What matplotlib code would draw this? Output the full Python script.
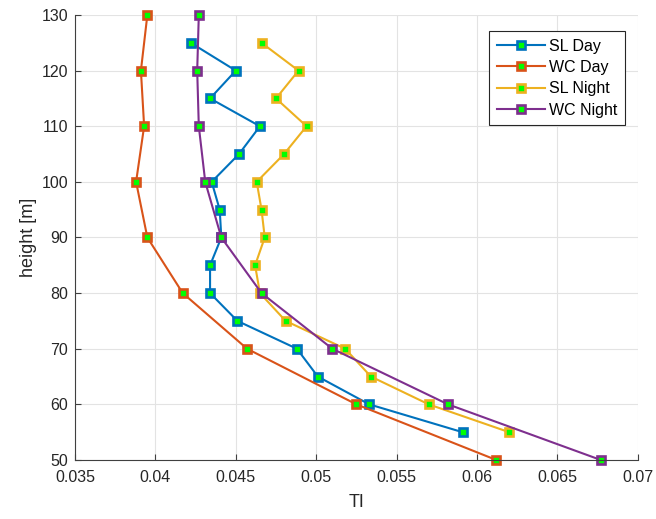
# TI profiles, day vs night

import numpy as np
import matplotlib.pyplot as plt

plt.rcParams['font.family'] = ['Liberation Sans', 'DejaVu Sans']

# SL heights (5 m steps), WC heights (10 m steps)
h_sl = [55, 60, 65, 70, 75, 80, 85, 90, 95, 100, 105, 110, 115, 120, 125]
h_wc = [50, 60, 70, 80, 90, 100, 110, 120, 130]

sl_day = [0.0591, 0.0533, 0.0501, 0.0488, 0.0451, 0.0434, 0.0434, 0.0441, 0.0440,
          0.0435, 0.0452, 0.0465, 0.0434, 0.0450, 0.0422]
wc_day = [0.0612, 0.0525, 0.0457, 0.0417, 0.0395, 0.0388, 0.0393, 0.0391, 0.0395]
sl_night = [0.0620, 0.0570, 0.0534, 0.0518, 0.0481, 0.0465, 0.0462, 0.0468, 0.0466,
            0.0463, 0.0480, 0.0494, 0.0475, 0.0489, 0.0466]
wc_night = [0.0677, 0.0582, 0.0510, 0.0466, 0.0441, 0.0431, 0.0427, 0.0426, 0.0427]

xticks = np.arange(0.035, 0.0701, 0.005)
xticklabels = ['0.035', '0.04', '0.045', '0.05', '0.055', '0.06', '0.065', '0.07']
yticks = np.arange(50, 131, 10)

fig = plt.figure(figsize=(6.56, 5.19), dpi=100)
ax = fig.add_axes([0.1143, 0.1137, 0.858, 0.8574])

series = [(sl_day, h_sl, 'SL Day', '#0072BD'),
          (wc_day, h_wc, 'WC Day', '#D95319'),
          (sl_night, h_sl, 'SL Night', '#EDB120'),
          (wc_night, h_wc, 'WC Night', '#7E2F8E')]
for x, h, lab, col in series:
    ax.plot(x, h, color=col, lw=1.5, marker='s', ms=5.2, mfc='#00FF00',
            mec=col, mew=1.9, label=lab, clip_on=False)

ax.set_xlim(0.035, 0.07)
ax.set_ylim(50, 130)
ax.set_xticks(xticks)
ax.set_xticklabels(xticklabels)
ax.set_yticks(yticks)
ax.grid(True, color='#E3E3E3', lw=0.8)
ax.set_axisbelow(True)
ax.spines['top'].set_visible(False)
ax.spines['right'].set_visible(False)
ax.spines['left'].set_color('#404040')
ax.spines['bottom'].set_color('#404040')
ax.tick_params(direction='in', length=4, colors='#404040', labelcolor='#262626',
               labelsize=11.5, pad=5)
ax.tick_params(axis='x', pad=7)
ax.set_xlabel('TI', fontsize=13, color='#262626', labelpad=7)
ax.set_ylabel('height [m]', fontsize=13, color='#262626', labelpad=3)

leg = ax.legend(loc='upper right', bbox_to_anchor=(0.977, 0.963), fontsize=11.5,
                fancybox=False, framealpha=1, edgecolor='#262626',
                handlelength=3.0, handletextpad=0.3, borderpad=0.45,
                labelspacing=0.4, borderaxespad=0)
leg.get_frame().set_linewidth(0.8)

plt.savefig('out.png', dpi=100)
